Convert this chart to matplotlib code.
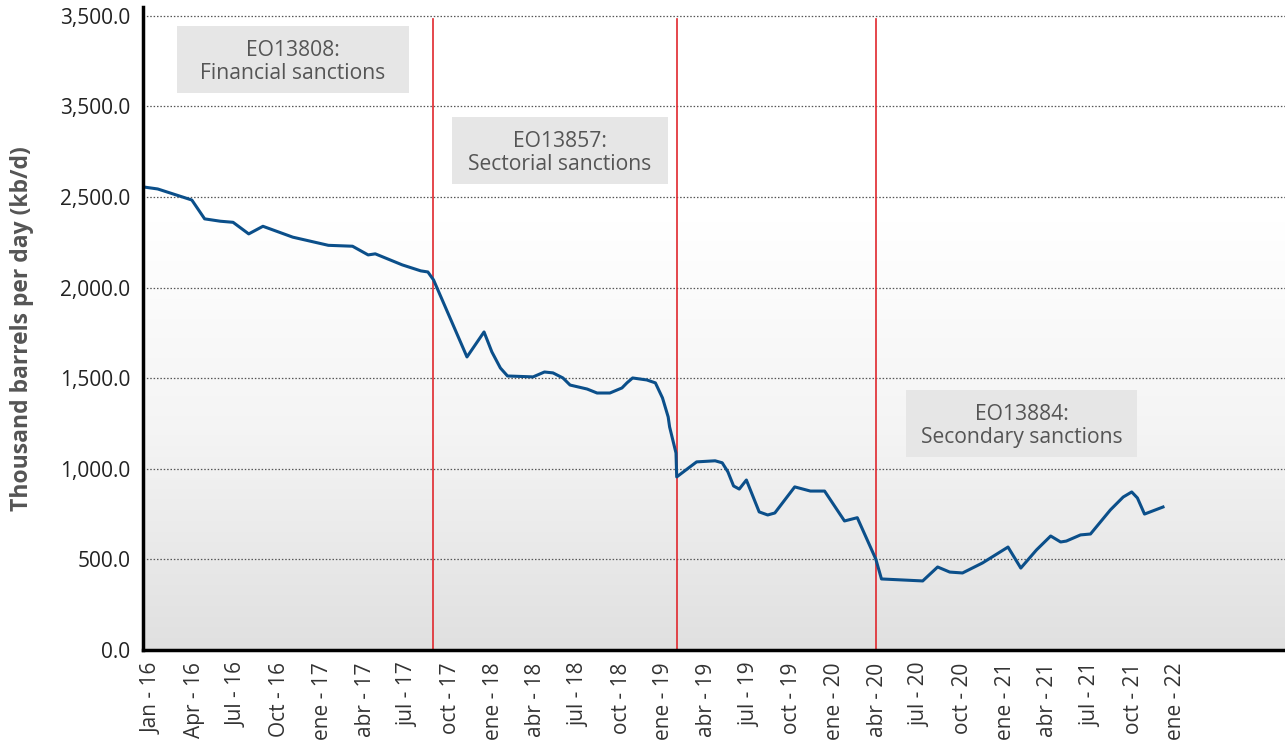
import matplotlib.pyplot as plt
import numpy as np
from matplotlib.colors import LinearSegmentedColormap
from matplotlib.patches import Rectangle

# months since Jan 2016 (fractional) and thousand barrels per day
months = [-0.6, 0.4, 2.8, 3.7, 4.8, 5.7, 6.8, 7.8, 9.9, 12.4, 14.1, 15.2, 15.7, 17.6,
          18.9, 19.4, 19.8, 22.15, 23.35, 23.9, 24.5, 25.0, 26.8, 27.6, 28.2, 28.9,
          29.4, 30.6, 31.3, 32.2, 33.05, 33.4, 33.8, 34.8, 35.4, 35.9, 36.3, 36.4,
          36.85, 36.9, 38.3, 39.6, 40.1, 40.5, 40.9, 41.3, 41.8, 42.7, 43.3, 43.8,
          45.2, 46.3, 47.3, 48.7, 49.6, 50.9, 51.3, 54.2, 55.25, 56.1, 57.0, 58.4,
          60.2, 61.1, 62.2, 63.2, 63.9, 64.3, 65.3, 66.0, 67.4, 68.3, 68.9, 69.3,
          69.8, 71.1]
production = [2555, 2544, 2483, 2379, 2366, 2360, 2296, 2338, 2278, 2233, 2228, 2180, 2186, 2125,
              2092, 2086, 2042, 1617, 1755, 1645, 1556, 1512, 1507, 1534, 1529, 1501,
              1462, 1440, 1418, 1418, 1446, 1474, 1501, 1490, 1474, 1391, 1286, 1231,
              1087, 955, 1038, 1044, 1033, 983, 905, 888, 938, 762, 745, 756,
              900, 877, 877, 712, 730, 502, 392, 381, 458, 430, 425, 480,
              568, 452, 552, 629, 596, 601, 635, 640, 773, 844, 872, 839,
              750, 789]

tick_labels = ['Jan - 16', 'Apr - 16', 'Jul - 16', 'Oct - 16',
               'ene - 17', 'abr - 17', 'jul - 17', 'oct - 17',
               'ene - 18', 'abr - 18', 'jul - 18', 'oct - 18',
               'ene - 19', 'abr - 19', 'jul - 19', 'oct - 19',
               'ene - 20', 'abr - 20', 'jul - 20', 'oct - 20',
               'ene - 21', 'abr - 21', 'jul - 21', 'oct - 21', 'ene - 22']
y_ticks = [0, 500, 1000, 1500, 2000, 2500, 3000, 3500]
y_labels = ['0.0', '500.0', '1,000.0', '1,500.0', '2,000.0', '2,500.0', '3,500.0', '3,500.0']

sanction_dates = [19.76, 36.9, 50.9]
sanction_text = ['EO13808:\nFinancial sanctions', 'EO13857:\nSectorial sanctions',
                 'EO13884:\nSecondary sanctions']
# label boxes: (x0, x1, y0, y1) in data units
boxes = [(1.76, 18.07, 3074, 3444), (21.1, 36.3, 2572, 2942), (53.0, 69.3, 1065, 1435)]

plt.rcParams['font.family'] = ['Open Sans', 'DejaVu Sans']

fig = plt.figure(figsize=(12.85, 7.46), dpi=100)
ax = fig.add_axes([0.1113, 0.1287, 0.8887, 0.8619])

xmin, xmax = -0.633, 79.68
ymin, ymax = 0, 3548

# gradient background, grey at bottom to white at top
grad = np.linspace(0, 1, 256).reshape(-1, 1)
bg = LinearSegmentedColormap.from_list('bg', ['#e0e0e0', '#f4f4f4', '#ffffff', '#ffffff'])
ax.imshow(grad, cmap=bg, aspect='auto', extent=[xmin, xmax, ymin, ymax], zorder=0,
          origin='lower')
ax.set_xlim(xmin, xmax)
ax.set_ylim(ymin, ymax)

for y in y_ticks[1:]:
    ax.axhline(y, color='#555555', lw=0.9, ls=(0, (1.2, 1.5)), zorder=1)

for d in sanction_dates:
    ax.plot([d, d], [0, 3482], color='#e0282e', lw=1.2, zorder=2)

for t, (x0, x1, y0, y1) in zip(sanction_text, boxes):
    ax.add_patch(Rectangle((x0, y0), x1 - x0, y1 - y0, fc='#e6e6e6', ec='none', zorder=3))
    ax.text((x0 + x1) / 2, (y0 + y1) / 2 - 15, t, ha='center', va='center', fontsize=15.2,
            color='#555555', linespacing=1.15, zorder=3.5)

ax.plot(months, production, color='#0b4f8a', lw=2.2, zorder=4, solid_joinstyle='round')

ax.set_xticks(np.arange(0, 73, 3))
ax.set_xticklabels(tick_labels, rotation=90, fontsize=15, color='#333333')
ax.set_yticks(y_ticks)
ax.set_yticklabels(y_labels, fontsize=15, color='#222222')
ax.tick_params(length=0, pad=9)

ax.set_ylabel('Thousand barrels per day (kb/d)', fontsize=16.5, fontweight='bold',
              color='#555555', labelpad=19)

for s in ['top', 'right']:
    ax.spines[s].set_visible(False)
ax.spines['left'].set_linewidth(2.5)
ax.spines['bottom'].set_linewidth(2.5)
ax.spines['left'].set_zorder(5)
ax.spines['bottom'].set_zorder(5)

fig.savefig('out.png', dpi=100)
